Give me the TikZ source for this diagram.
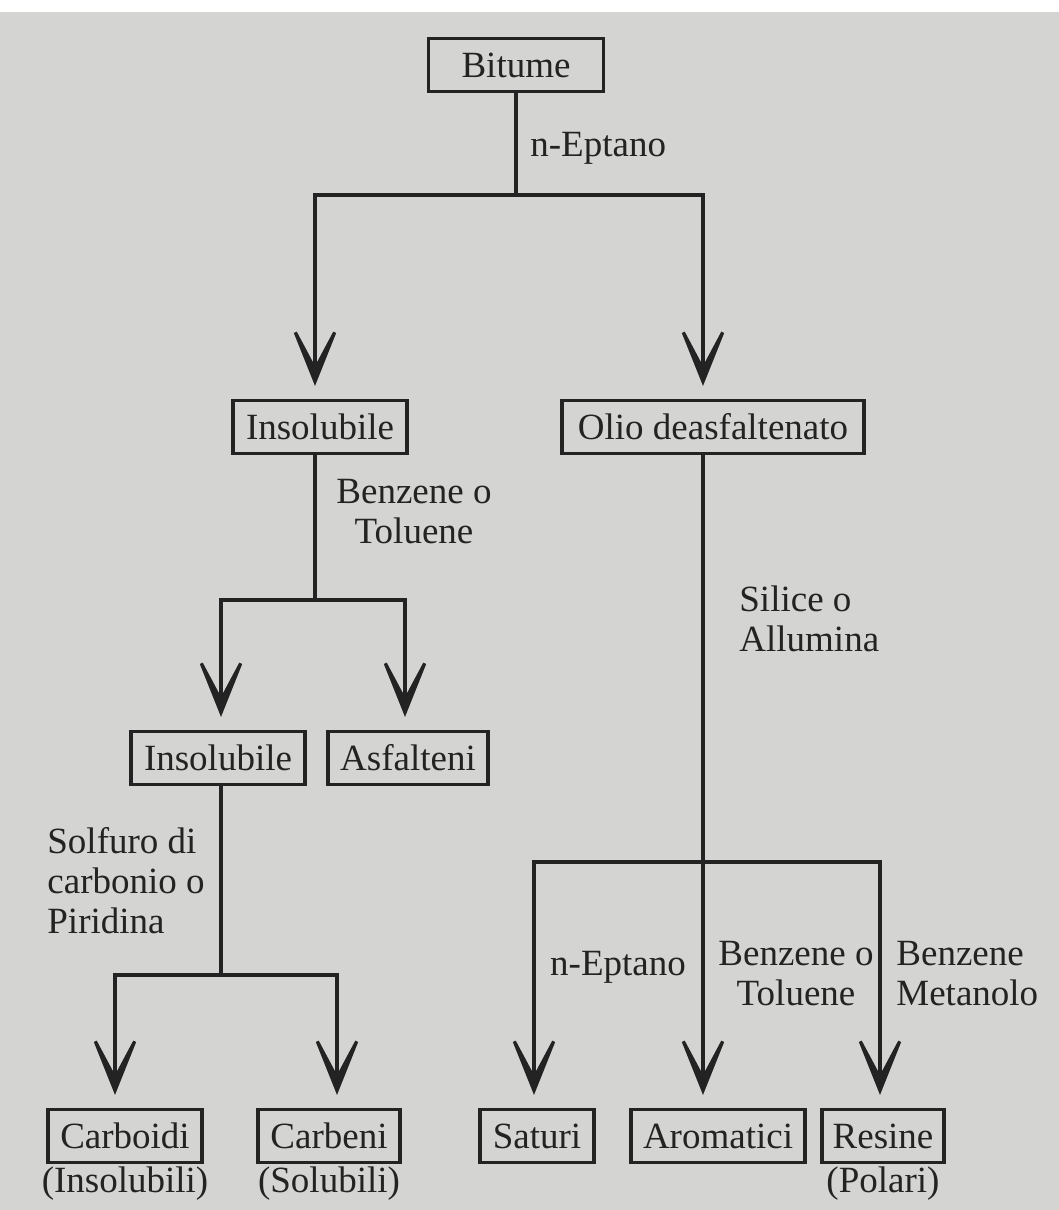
\documentclass[tikz,border=0pt]{standalone}
\usepackage{fontspec}
\setmainfont{Liberation Serif}
\usetikzlibrary{arrows.meta}
\definecolor{paper}{RGB}{212,212,210}
\definecolor{ink}{RGB}{35,35,35}
\begin{document}
\begin{tikzpicture}[x=0.5pt,y=-0.5pt,
 box/.style={draw=ink, line width=1.6pt, minimum height=26.5pt, inner sep=0pt, text=ink, font=\fontsize{18.5}{20}\selectfont},
 lab/.style={text=ink, inner sep=0pt, font=\fontsize{18.5}{20}\selectfont},
 link/.style={draw=ink, line width=1.6pt, line cap=rect},
 arr/.style={draw=ink, line width=1.6pt, -{Stealth[length=40pt,width=32pt,inset=30pt]}, shorten >=6.5pt}]
\useasboundingbox (0,0) rectangle (1059,1210);
\fill[white] (0,0) rectangle (1059,1210);
\fill[paper] (0,12) rectangle (1059,1210);

% boxes
\node[box, minimum width=87.5pt] (bit) at (516,65) {Bitume};
\node[box, minimum width=87pt] (ins1) at (320,427) {Insolubile};
\node[box, minimum width=151pt] (olio) at (713,427) {Olio deasfaltenato};
\node[box, minimum width=87pt] (ins2) at (218,758) {Insolubile};
\node[box, minimum width=80pt] (asf) at (408,758) {Asfalteni};
\node[box, minimum width=77pt] (carbo) at (125,1136) {Carboidi};
\node[box, minimum width=71pt] (carbe) at (329,1136) {Carbeni};
\node[box, minimum width=57pt] (sat) at (537,1136) {Saturi};
\node[box, minimum width=87pt] (aro) at (718,1136) {Aromatici};
\node[box, minimum width=61pt] (res) at (883,1136) {Resine};

% sub labels
\node[lab] (insl) at (125,1184) {(Insolubili)};
\node[lab] (soll) at (329,1184) {(Solubili)};
\node[lab] (pol) at (883,1184) {(Polari)};

% solvent labels
\node[lab, anchor=west] (l1) at (530,148) {n-Eptano};
\node[lab, align=center] (l2) at (414,512) {Benzene o\\Toluene};
\node[lab, align=left, anchor=west] (l3) at (47,881) {Solfuro di\\carbonio o\\Piridina};
\node[lab, align=left, anchor=west] (l4) at (739,619) {Silice o\\Allumina};
\node[lab] (l5) at (618,967) {n-Eptano};
\node[lab, align=center] (l6) at (796,974) {Benzene o\\Toluene};
\node[lab, align=left, anchor=west] (l7) at (896,974) {Benzene\\Metanolo};

% junctions
\coordinate (t0) at (516,195);
\coordinate (tL) at (315,195);
\coordinate (tR) at (703,195);
\coordinate (m0) at (315,600);
\coordinate (mL) at (221,600);
\coordinate (mR) at (405,600);
\coordinate (b0) at (221,975);
\coordinate (bL) at (115,975);
\coordinate (bR) at (337,975);
\coordinate (r0) at (703,862);
\coordinate (rL) at (534,862);
\coordinate (rR) at (880,862);

% top split
\draw[link] (bit.south) -- (t0);
\draw[link] (tL) -- (tR);
\draw[arr] (tL) -- (tL |- ins1.north);
\draw[arr] (tR) -- (tR |- olio.north);

% insolubile split
\draw[link] (ins1.south -| m0) -- (m0);
\draw[link] (mL) -- (mR);
\draw[arr] (mL) -- (mL |- ins2.north);
\draw[arr] (mR) -- (mR |- asf.north);

% lower left split
\draw[link] (ins2.south -| b0) -- (b0);
\draw[link] (bL) -- (bR);
\draw[arr] (bL) -- (bL |- carbo.north);
\draw[arr] (bR) -- (bR |- carbe.north);

% right column
\draw[arr] (olio.south -| r0) -- (r0 |- aro.north);
\draw[link] (rL) -- (rR);
\draw[arr] (rL) -- (rL |- sat.north);
\draw[arr] (rR) -- (rR |- res.north);
\end{tikzpicture}
\end{document}
